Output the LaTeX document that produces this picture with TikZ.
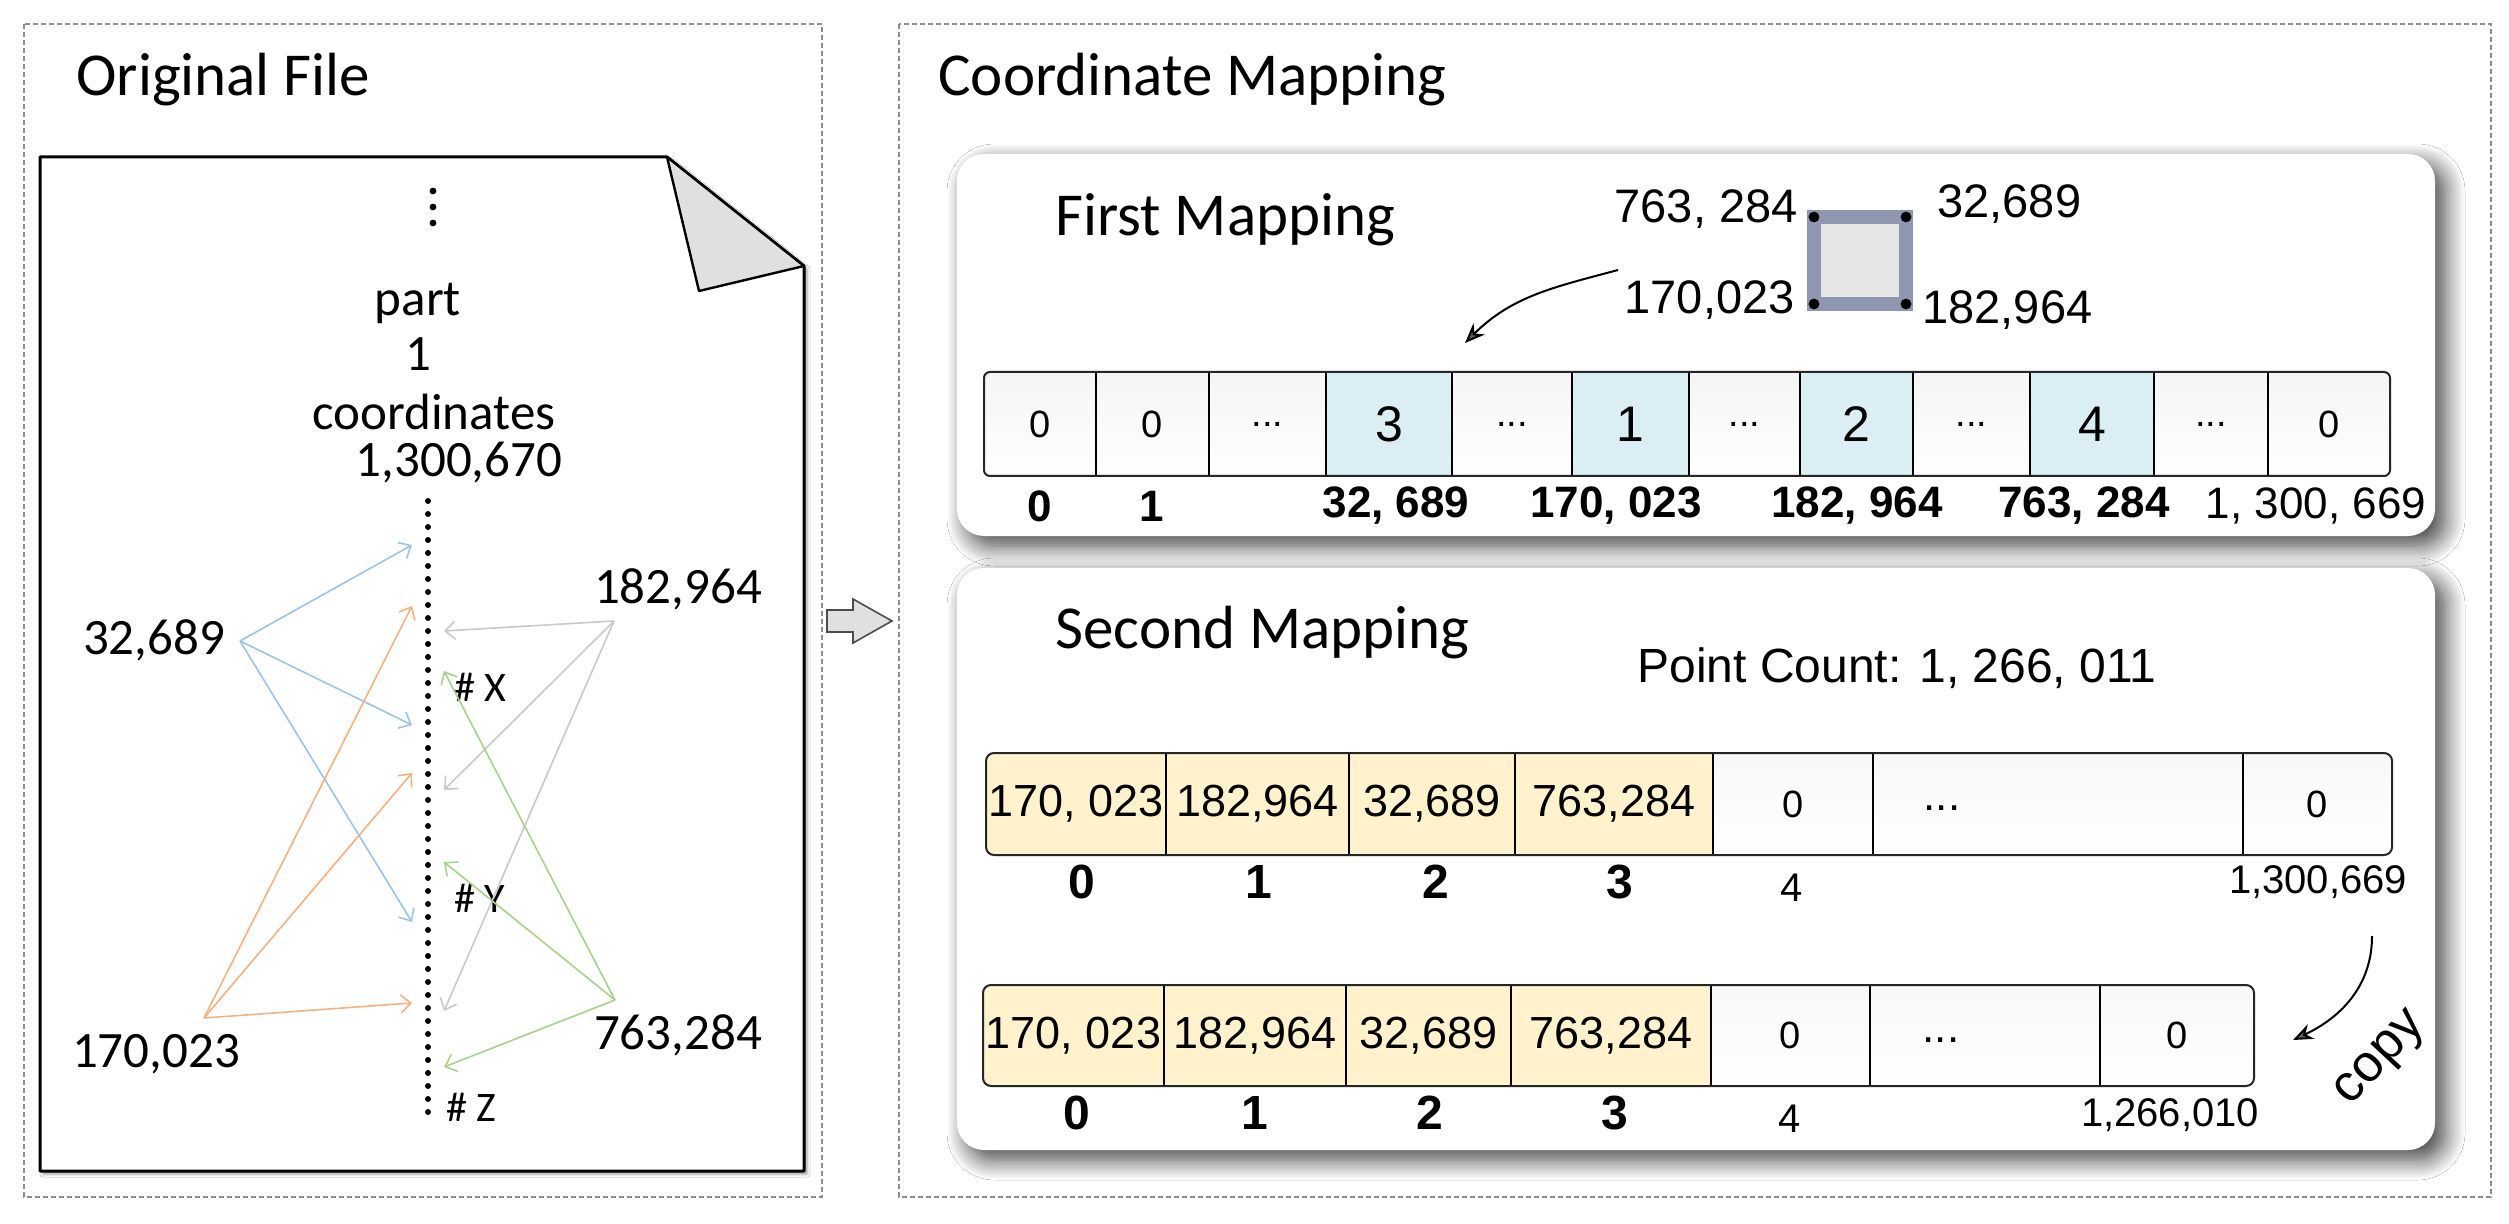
\documentclass[tikz,border=0pt]{standalone}
\usepackage{fontspec}
\setmainfont{Carlito}
\newfontfamily\arialf{Liberation Sans}
\usetikzlibrary{arrows.meta,shadows.blur}
\definecolor{cblue}{HTML}{9DC3E6}
\definecolor{corange}{HTML}{F4B183}
\definecolor{cgrey}{HTML}{C9C9C9}
\definecolor{cgreen}{HTML}{A9D18E}
\definecolor{cellblue}{HTML}{DAEEF3}
\definecolor{cellyel}{HTML}{FFF2CC}
\definecolor{sqline}{HTML}{8E96B0}
\definecolor{sqfill}{HTML}{E6E6E6}
\newcommand\ddd{...}
\begin{document}
\begin{tikzpicture}[x=0.5pt,y=-0.5pt,
  frame/.style={draw=black!45, line width=0.6pt, dash pattern=on 2.5pt off 1.5pt},
  ttl/.style={font=\fontsize{30.5}{36}\selectfont, anchor=west, inner sep=0pt},
  llbl/.style={font=\fontsize{25.5}{30}\selectfont, inner sep=0pt},
  hlbl/.style={font=\fontsize{21}{25}\selectfont, anchor=west, inner sep=0pt},
  albl/.style={font=\arialf\fontsize{23.5}{28}\selectfont, inner sep=0pt},
  cellbase/.style={inner sep=0pt, outer sep=0pt, minimum height=#1},
  zc/.style={top color=black!4, bottom color=white, font=\arialf\fontsize{19}{22}\selectfont},
  bc/.style={fill=cellblue, draw=black, line width=1pt, font=\arialf\fontsize{25}{30}\selectfont},
  yc/.style={fill=cellyel, font=\arialf\fontsize{22.5}{27}\selectfont},
  wc/.style={top color=black!3, bottom color=white, font=\arialf\fontsize{19}{22}\selectfont},
  div/.style={draw=black, line width=1pt},
  outline/.style={draw=black!85, line width=1pt, rounded corners=3pt},
  idxb/.style={font=\arialf\bfseries\fontsize{22}{26}\selectfont, inner sep=0pt},
  idxr/.style={font=\arialf\fontsize{22}{26}\selectfont, inner sep=0pt},
  idxB/.style={font=\arialf\bfseries\fontsize{24}{28}\selectfont, inner sep=0pt},
  idxs/.style={font=\arialf\fontsize{20}{24}\selectfont, inner sep=0pt},
  carr/.style={line width=0.8pt, -{Straight Barb[length=5pt,width=9pt]}},
  mapbox/.style={fill=white, rounded corners=13.5pt, blur shadow={shadow xshift=5pt, shadow yshift=-5pt, shadow blur radius=10pt, shadow blur steps=14, shadow opacity=75}},
  bendarr/.style={line width=1pt, -{Stealth[length=10pt,width=8pt]}},
]
\useasboundingbox (0,0) rectangle (2509,1224);
\fill[white] (0,0) rectangle (2509,1224);

% ---------------- left panel ----------------
\draw[frame] (24,24) rectangle (822,1197);
\node[ttl] (otitle) at (76,80) {Original File};

\draw[line width=1.5pt, fill=white, line join=round,
  blur shadow={shadow xshift=1.5pt, shadow yshift=-1.5pt, shadow blur radius=1.5pt, shadow opacity=40}]
  (40,157) -- (667,157) -- (804,266) -- (804,1171) -- (40,1171) -- cycle;
\draw[line width=1.2pt, fill=black!12, line join=round] (667,157) -- (699,291) -- (804,266) -- cycle;

\fill (433,191) circle (1.7pt);
\fill (433,207) circle (1.7pt);
\fill (433,223) circle (1.7pt);

\node[llbl] (tpart) at (418,303) {part};
\node[llbl] (tone) at (418,354) {1};
\node[llbl] (tcoord) at (434,412) {coordinates};
\node[llbl] (tcount) at (459,463) {1,300,670};

\node[llbl] (l32) at (154,640) {32,689};
\node[llbl] (l182) at (678,589) {182,964};
\node[llbl] (l763) at (678,1035) {763,284};
\node[llbl] (l170) at (156,1054) {170,023};
\node[hlbl] (hx) at (454,687) {\# X};
\node[hlbl] (hy) at (454,898) {\# Y};
\node[hlbl] (hz) at (446,1107) {\# Z};

\coordinate (sb) at (240,641);
\coordinate (sg) at (614,621);
\coordinate (sgr) at (615,1000);
\coordinate (so) at (204,1018);
\coordinate (tb1) at (412,545);
\coordinate (tb2) at (412,725);
\coordinate (tb3) at (412,922);
\coordinate (tg1) at (444,631);
\coordinate (tg2) at (444,790);
\coordinate (tg3) at (444,1011);
\coordinate (tn1) at (444,671);
\coordinate (tn2) at (444,862);
\coordinate (tn3) at (444,1067);
\coordinate (to1) at (412,606);
\coordinate (to2) at (412,773);
\coordinate (to3) at (412,1003);

\draw[carr, cblue] (sb) -- (tb1);
\draw[carr, cblue] (sb) -- (tb2);
\draw[carr, cblue] (sb) -- (tb3);
\draw[carr, cgrey] (sg) -- (tg1);
\draw[carr, cgrey] (sg) -- (tg2);
\draw[carr, cgrey] (sg) -- (tg3);
\draw[carr, cgreen] (sgr) -- (tn1);
\draw[carr, cgreen] (sgr) -- (tn2);
\draw[carr, cgreen] (sgr) -- (tn3);
\draw[carr, corange] (so) -- (to1);
\draw[carr, corange] (so) -- (to2);
\draw[carr, corange] (so) -- (to3);

\coordinate (dtop) at (428,501);
\coordinate (dbot) at (428,1115);
\draw[line width=3pt, line cap=round, dash pattern=on 0pt off 6.5pt] (dtop) -- (dbot);

% block arrow between panels
\draw[fill=black!12, draw=black!70, line width=0.8pt, line join=miter]
  (827,610) -- (853,610) -- (853,599) -- (892,621) -- (853,643) -- (853,632) -- (827,632) -- cycle;

% ---------------- right panel ----------------
\draw[frame] (899,24) rectangle (2491,1197);
\node[ttl] (rtitle) at (938,80) {Coordinate Mapping};

\path[mapbox] (957,154) rectangle (2435,536);
\path[mapbox] (957,568) rectangle (2435,1150);

\node[ttl] (fmt) at (1055,220) {First Mapping};
\node[ttl] (smt) at (1055,633) {Second Mapping};

% square
\node[draw=sqline, fill=sqfill, line width=7pt, minimum width=46pt, minimum height=43.5pt, inner sep=0pt, outer sep=0pt] (sq) at (1860,260.5) {};
\fill (sq.north west) circle (2.7pt);
\fill (sq.north east) circle (2.7pt);
\fill (sq.south west) circle (2.7pt);
\fill (sq.south east) circle (2.7pt);
\node[albl, anchor=east] (q763) at (1798,209) {763, 284};
\node[albl, anchor=east] (q170) at (1795,300) {170,023};
\node[albl, anchor=west] (q32) at (1937,204) {32,689};
\node[albl, anchor=west] (q182) at (1922,310) {182,964};

\coordinate (m1s) at (1618,270);
\coordinate (m1e) at (1465,343);
\draw[bendarr] (m1s) to[out=195,in=45] (m1e);

% first array
\begin{scope}
\clip[rounded corners=3pt] (984,372) rectangle (2390,476);
\foreach \l/\r/\t/\s [count=\i] in {984/1096/0/zc,1096/1209/0/zc,1209/1326/\ddd/zc,1326/1452/3/bc,1452/1572/\ddd/zc,1572/1689/1/bc,1689/1800/\ddd/zc,1800/1913/2/bc,1913/2030/\ddd/zc,2030/2154/4/bc,2154/2268/\ddd/zc,2268/2390/0/zc}{
  \pgfmathsetmacro\w{(\r-\l)*0.5}
  \node[cellbase=52pt, \s, minimum width=\w pt] (fa\i) at ({(\l+\r)/2},424) {\t};
}
\end{scope}
\foreach \i in {1,2,3,4,5,6,7,8,9,10,11}{
  \draw[div] (fa\i.north east) -- (fa\i.south east);
}
\draw[outline] (984,372) rectangle (2390,476);

\node[idxb] (fi0) at (1040,506) {0};
\node[idxb] (fi1) at (1152,506) {1};
\node[idxb] (fi2) at (1396,506) {32, 689};
\node[idxb] (fi3) at (1616,506) {170, 023};
\node[idxb] (fi4) at (1857,506) {182, 964};
\node[idxb] (fi5) at (2084,506) {763, 284};
\node[idxr] (fi6) at (2316,506) {1, 300, 669};

% second mapping
\node[font=\arialf\fontsize{24}{29}\selectfont, anchor=west, inner sep=0pt] (pcount) at (1637,668) {Point Count: 1, 266, 011};

\begin{scope}
\clip[rounded corners=4pt] (986,753) rectangle (2392,855);
\foreach \l/\r/\t/\s [count=\i] in {986/1166/{170, 023}/yc,1166/1349/{182,964}/yc,1349/1515/{32,689}/yc,1515/1713/{763,284}/yc,1713/1873/0/wc,1873/2243//wc,2243/2392/0/wc}{
  \pgfmathsetmacro\w{(\r-\l)*0.5}
  \node[cellbase=51pt, \s, minimum width=\w pt] (sa\i) at ({(\l+\r)/2},804) {\t};
}
\end{scope}
\foreach \i in {1,2,3,4,5,6}{
  \draw[div] (sa\i.north east) -- (sa\i.south east);
}
\draw[outline, rounded corners=4pt] (986,753) rectangle (2392,855);
\node[font=\arialf\fontsize{22}{26}\selectfont, inner sep=0pt] (sadots) at (1942,808) {...};

\node[idxB] (si0) at (1082,882) {0};
\node[idxB] (si1) at (1259,882) {1};
\node[idxB] (si2) at (1436,882) {2};
\node[idxB] (si3) at (1620,882) {3};
\node[idxs] (si4) at (1792,888) {4};
\node[idxs] (si5) at (2318,882) {1,300,669};

\begin{scope}
\clip[rounded corners=4pt] (983,985) rectangle (2254,1086);
\foreach \l/\r/\t/\s [count=\i] in {983/1164/{170, 023}/yc,1164/1346/{182,964}/yc,1346/1511/{32,689}/yc,1511/1711/{763,284}/yc,1711/1870/0/wc,1870/2100//wc,2100/2254/0/wc}{
  \pgfmathsetmacro\w{(\r-\l)*0.5}
  \node[cellbase=50.5pt, \s, minimum width=\w pt] (sb\i) at ({(\l+\r)/2},1035.5) {\t};
}
\end{scope}
\foreach \i in {1,2,3,4,5,6}{
  \draw[div] (sb\i.north east) -- (sb\i.south east);
}
\draw[outline, rounded corners=4pt] (983,985) rectangle (2254,1086);
\node[font=\arialf\fontsize{22}{26}\selectfont, inner sep=0pt] (sbdots) at (1941,1040) {...};

\node[idxB] (ti0) at (1077,1113) {0};
\node[idxB] (ti1) at (1255,1113) {1};
\node[idxB] (ti2) at (1430,1113) {2};
\node[idxB] (ti3) at (1615,1113) {3};
\node[idxs] (ti4) at (1790,1119) {4};
\node[idxs] (ti5) at (2170,1115) {1,266,010};

\coordinate (cps) at (2372,936);
\coordinate (cpe) at (2293,1040);
\draw[bendarr] (cps) to[out=-90,in=25] (cpe);
\node[font=\arialf\fontsize{26}{30}\selectfont, rotate=47, inner sep=0pt] (tcopy) at (2382,1060) {copy};
\end{tikzpicture}
\end{document}
